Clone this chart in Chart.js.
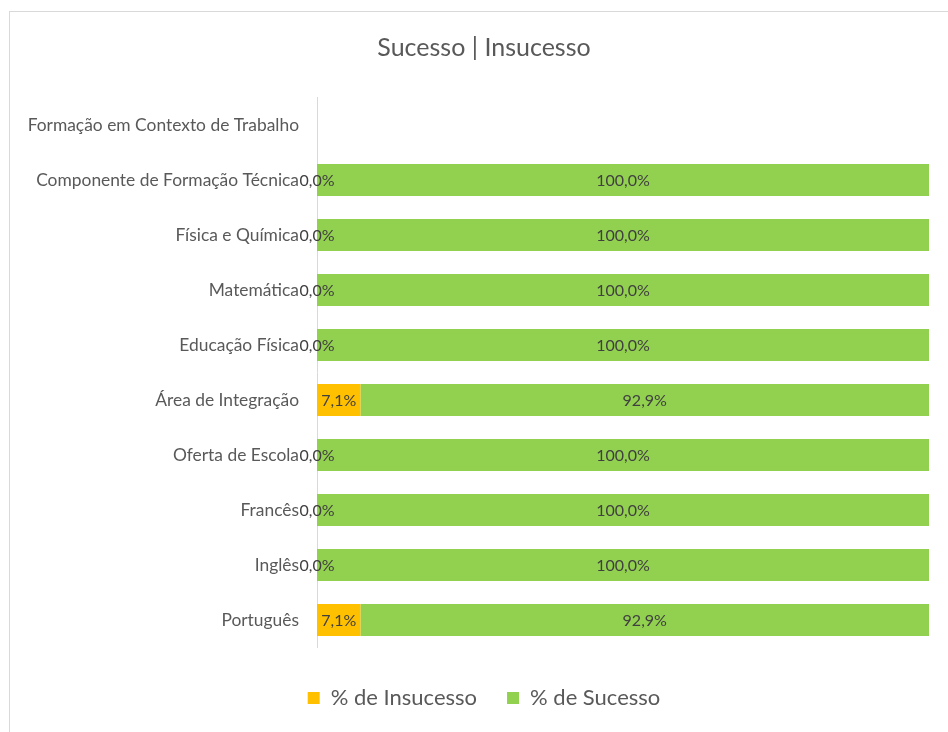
<!DOCTYPE html>
<html>
<head>
<meta charset="utf-8">
<script src="https://cdn.jsdelivr.net/npm/chart.js@4/dist/chart.umd.min.js"></script>
<style>
  html, body { margin: 0; padding: 0; background: #ffffff; }
  #wrap { position: relative; width: 948px; height: 732px; overflow: hidden; }
  #frame { position: absolute; left: 9px; top: 11px; width: 960px; height: 760px; border: 1px solid #d9d9d9; box-sizing: border-box; }
  canvas { position: absolute; left: 0; top: 0; }
</style>
</head>
<body>
<div id="wrap">
  <div id="frame"></div>
  <canvas id="c" width="968" height="732"></canvas>
</div>
<script>
const titleText = "Sucesso | Insucesso";
const categories = [
  "Formação em Contexto de Trabalho",
  "Componente de Formação Técnica",
  "Física e Química",
  "Matemática",
  "Educação Física",
  "Área de Integração",
  "Oferta de Escola",
  "Francês",
  "Inglês",
  "Português"
];
const seriesNames = ["% de Insucesso", "% de Sucesso"];
const insucesso = [null, 0, 0, 0, 0, 7.1, 0, 0, 0, 7.1];
const sucesso = [null, 100, 100, 100, 100, 92.9, 100, 100, 100, 92.9];

const FONT = "Lato, 'Open Sans', sans-serif";

const labelPlugin = {
  id: 'barLabels',
  afterDatasetsDraw(chart) {
    const ctx = chart.ctx;
    ctx.save();
    ctx.font = "16px " + FONT;
    ctx.fillStyle = "#404040";
    ctx.textAlign = "center";
    ctx.textBaseline = "middle";
    chart.data.datasets.forEach((ds, di) => {
      const meta = chart.getDatasetMeta(di);
      meta.data.forEach((bar, i) => {
        const v = ds.data[i];
        if (v === null || v === undefined) return;
        const p = bar.getProps(['x', 'y', 'base'], true);
        const cx = (p.x + p.base) / 2;
        ctx.fillText(v.toFixed(1).replace('.', ',') + '%', cx, p.y + 1);
      });
    });
    ctx.restore();
  }
};

new Chart(document.getElementById('c'), {
  type: 'bar',
  data: {
    labels: categories,
    datasets: [
      { label: seriesNames[0], data: insucesso, backgroundColor: '#FFC000', borderWidth: 0 },
      { label: seriesNames[1], data: sucesso, backgroundColor: '#92D050', borderWidth: 0 }
    ]
  },
  options: {
    indexAxis: 'y',
    responsive: false,
    animation: false,
    devicePixelRatio: 1,
    layout: { padding: { left: 0, right: 0, top: 0, bottom: 13 } },
    datasets: { bar: { categoryPercentage: 1, barPercentage: 0.58 } },
    scales: {
      x: {
        stacked: true, min: 0, max: 100,
        display: true,
        ticks: { display: false },
        grid: { display: false },
        border: { display: false },
        afterFit(s) { s.height = 9.5; }
      },
      y: {
        stacked: true,
        ticks: { color: '#595959', font: { family: FONT, size: 17.4 }, padding: 18, autoSkip: false },
        grid: { display: false, drawTicks: false },
        border: { display: true, color: '#d9d9d9', width: 1 },
        afterFit(s) { s.width = 317; }
      },
      yRight: {
        type: 'linear', axis: 'y', position: 'right', display: true,
        ticks: { display: false },
        grid: { display: false, drawTicks: false },
        border: { display: false },
        afterFit(s) { s.width = 39; }
      }
    },
    plugins: {
      title: {
        display: true, text: titleText, color: '#595959',
        font: { family: FONT, size: 25, weight: 'normal' },
        padding: { top: 33, bottom: 34.5 }
      },
      legend: {
        position: 'bottom',
        labels: { color: '#595959', font: { family: FONT, size: 22 }, boxWidth: 12, boxHeight: 12, padding: 30 }
      },
      tooltip: { enabled: false }
    }
  },
  plugins: [labelPlugin]
});
</script>
</body>
</html>
